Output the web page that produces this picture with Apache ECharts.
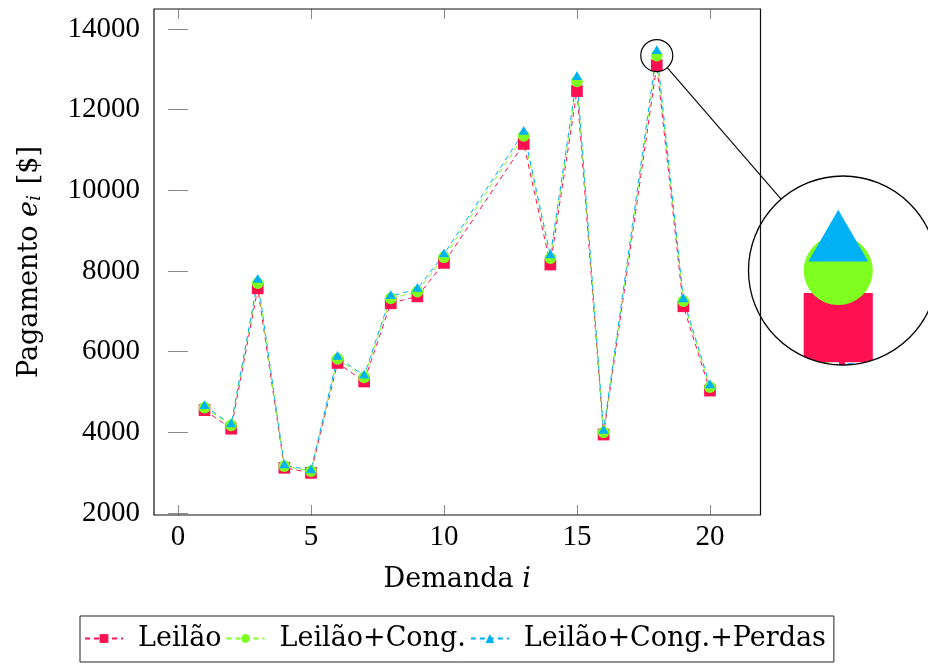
<!DOCTYPE html>
<html>
<head>
<meta charset="utf-8">
<script src="https://cdn.jsdelivr.net/npm/echarts@6/dist/echarts.min.js"></script>
<style>
  html, body { margin: 0; padding: 0; background: #fff; }
  #chart { width: 928px; height: 664px; }
</style>
</head>
<body>
<div id="chart"></div>
<script>
// Demand index and payment per demand for the three market settings
const demanda = [1, 2, 3, 4, 5, 6, 7, 8, 9, 10, 13, 14, 15, 16, 18, 19, 20];
const leilao = [4550, 4090, 7570, 3120, 2995, 5720, 5260, 7200, 7370, 8200, 11150, 8160, 12460, 3945, 13100, 7125, 5035];
const leilaoCong = [4610, 4170, 7700, 3160, 3040, 5820, 5360, 7320, 7490, 8340, 11350, 8320, 12700, 4000, 13340, 7250, 5120];
const leilaoCongPerdas = [4650, 4200, 7780, 3180, 3060, 5870, 5405, 7375, 7555, 8415, 11450, 8390, 12810, 4035, 13450, 7300, 5165];

const xTicks = [0, 5, 10, 15, 20];
const yTicks = [2000, 4000, 6000, 8000, 10000, 12000, 14000];

const seriesNames = ['Leilão', 'Leilão+Cong.', 'Leilão+Cong.+Perdas'];
const seriesColors = ['#ff1050', '#7fff1f', '#00b2f5'];

// Axis extents and plot box
const X_MIN = -0.9, X_MAX = 21.9, Y_MIN = 1950, Y_MAX = 14495;
const plot = { left: 154, top: 9, width: 606.5, height: 506 };
const NUM_FONT = 'Liberation Serif';
const TEXT_FONT = 'DejaVu Serif';

// Magnifier ("spy") around the peak at demand 18
const spy = { x: 18, y: 13340, r: 16, cx: 843, cy: 270.5, R: 94.5 };
const mag = spy.R / spy.r;
const pxPerX = plot.width / (X_MAX - X_MIN);
const pxPerY = plot.height / (Y_MAX - Y_MIN);
const spyPx = plot.left + (spy.x - X_MIN) * pxPerX;
const spyPy = plot.top + (Y_MAX - spy.y) * pxPerY;
const halfX = spy.r / pxPerX, halfY = spy.r / pxPerY;

// marker radius (px) shared by all three mark types
const MR = 5.85;
const markers = [
  { symbol: 'rect', size: 2 * MR, offset: [0, 0] },
  { symbol: 'circle', size: 2 * MR, offset: [0, 0] },
  { symbol: 'triangle', size: [Math.sqrt(3) * MR, 1.5 * MR], offset: [0, -MR / 4] }
];
const valuesBySeries = [leilao, leilaoCong, leilaoCongPerdas];

function scaled(v, k) { return Array.isArray(v) ? v.map(t => t * k) : v * k; }

function buildSeries(i, k, axisIdx, z) {
  const m = markers[i];
  return {
    name: seriesNames[i],
    type: 'line',
    xAxisIndex: axisIdx,
    yAxisIndex: axisIdx,
    data: demanda.map((d, j) => [d, valuesBySeries[i][j]]),
    symbol: m.symbol,
    symbolSize: scaled(m.size, k),
    symbolOffset: scaled(m.offset, k),
    showAllSymbol: true,
    clip: true,
    z: z,
    itemStyle: { color: seriesColors[i], borderWidth: 0 },
    lineStyle: { color: seriesColors[i], width: 1 * k, type: [5 * k, 4 * k] },
    emphasis: { disabled: true },
    animation: false
  };
}

const series = [];
for (let i = 0; i < 3; i++) series.push(buildSeries(i, 1, 0, 2));
for (let i = 0; i < 3; i++) series.push(buildSeries(i, mag, 1, 11));

const tickStyle = { show: true, inside: true, length: 10, lineStyle: { color: '#888', width: 1 } };
const numStyle = { fontFamily: NUM_FONT, fontSize: 29, color: '#000' };
const textStyle = { fontFamily: TEXT_FONT, fontSize: 27, color: '#000' };

const chart = echarts.init(document.getElementById('chart'), null, { renderer: 'canvas' });
chart.setOption({
  animation: false,
  backgroundColor: '#fff',
  grid: [
    { left: plot.left, top: plot.top, width: plot.width, height: plot.height,
      show: true, borderColor: '#111', borderWidth: 1.2, backgroundColor: 'transparent', z: 20 },
    { left: spy.cx - spy.R, top: spy.cy - spy.R, width: 2 * spy.R, height: 2 * spy.R, show: false }
  ],
  xAxis: [
    { type: 'value', gridIndex: 0, min: X_MIN, max: X_MAX, position: 'bottom',
      axisLine: { show: false }, splitLine: { show: false },
      axisTick: Object.assign({ customValues: xTicks }, tickStyle),
      axisLabel: Object.assign({ customValues: xTicks, margin: 8, formatter: v => String(v) }, numStyle),
      name: 'Demanda {it|i}', nameLocation: 'middle', nameGap: 51,
      nameTextStyle: Object.assign({ rich: { it: { fontFamily: TEXT_FONT, fontSize: 27, fontStyle: 'italic', color: '#000' } } }, textStyle) },
    { type: 'value', gridIndex: 1, min: spy.x - halfX, max: spy.x + halfX, show: false },
    { type: 'value', gridIndex: 0, min: X_MIN, max: X_MAX, position: 'top',
      axisLine: { show: false }, splitLine: { show: false },
      axisTick: Object.assign({ customValues: xTicks }, tickStyle),
      axisLabel: { show: false } }
  ],
  yAxis: [
    { type: 'value', gridIndex: 0, min: Y_MIN, max: Y_MAX, position: 'left',
      axisLine: { show: false }, splitLine: { show: false },
      axisTick: Object.assign({ customValues: yTicks }, tickStyle),
      axisLabel: Object.assign({ customValues: yTicks, margin: 14, formatter: v => String(v) }, numStyle),
      name: 'Pagamento {it|e}{sub|i} [$]', nameLocation: 'middle', nameGap: 109, nameRotate: 90,
      nameTextStyle: Object.assign({ rich: {
        it: { fontFamily: TEXT_FONT, fontSize: 27, fontStyle: 'italic', color: '#000' },
        sub: { fontFamily: TEXT_FONT, fontSize: 19, fontStyle: 'italic', color: '#000', padding: [12, 2, 0, 0] }
      } }, textStyle) },
    { type: 'value', gridIndex: 1, min: spy.y - halfY, max: spy.y + halfY, show: false },
    { type: 'value', gridIndex: 0, min: Y_MIN, max: Y_MAX, position: 'right',
      axisLine: { show: false }, splitLine: { show: false },
      axisTick: Object.assign({ customValues: yTicks }, tickStyle),
      axisLabel: { show: false } }
  ],
  legend: {
    data: seriesNames,
    left: 80, top: 616,
    orient: 'horizontal',
    itemWidth: 38, itemHeight: 11, itemGap: 4,
    padding: [9, 8, 10, 4],
    borderColor: '#222', borderWidth: 1, backgroundColor: '#fff',
    textStyle: Object.assign({ padding: [0, 0, 0, 10] }, textStyle),
    selectedMode: false
  },
  series: series,
  graphic: [
    { type: 'circle', z: 10, shape: { cx: spy.cx, cy: spy.cy, r: spy.R }, style: { fill: '#fff' }, silent: true },
    { type: 'circle', z: 12, shape: { cx: spy.cx, cy: spy.cy, r: spy.R + 5 },
      style: { fill: 'transparent', stroke: '#fff', lineWidth: 10 }, silent: true },
    { type: 'circle', z: 13, shape: { cx: spy.cx, cy: spy.cy, r: spy.R },
      style: { fill: 'transparent', stroke: '#000', lineWidth: 1.3 }, silent: true },
    { type: 'circle', z: 13, shape: { cx: spyPx, cy: spyPy, r: spy.r },
      style: { fill: 'transparent', stroke: '#000', lineWidth: 1.2 }, silent: true },
    (function () {
      const dx = spy.cx - spyPx, dy = spy.cy - spyPy, L = Math.hypot(dx, dy);
      const ux = dx / L, uy = dy / L;
      return { type: 'line', z: 13, silent: true,
        shape: { x1: spyPx + ux * spy.r, y1: spyPy + uy * spy.r, x2: spy.cx - ux * spy.R, y2: spy.cy - uy * spy.R },
        style: { stroke: '#000', lineWidth: 1.1 } };
    })()
  ]
});
</script>
</body>
</html>
